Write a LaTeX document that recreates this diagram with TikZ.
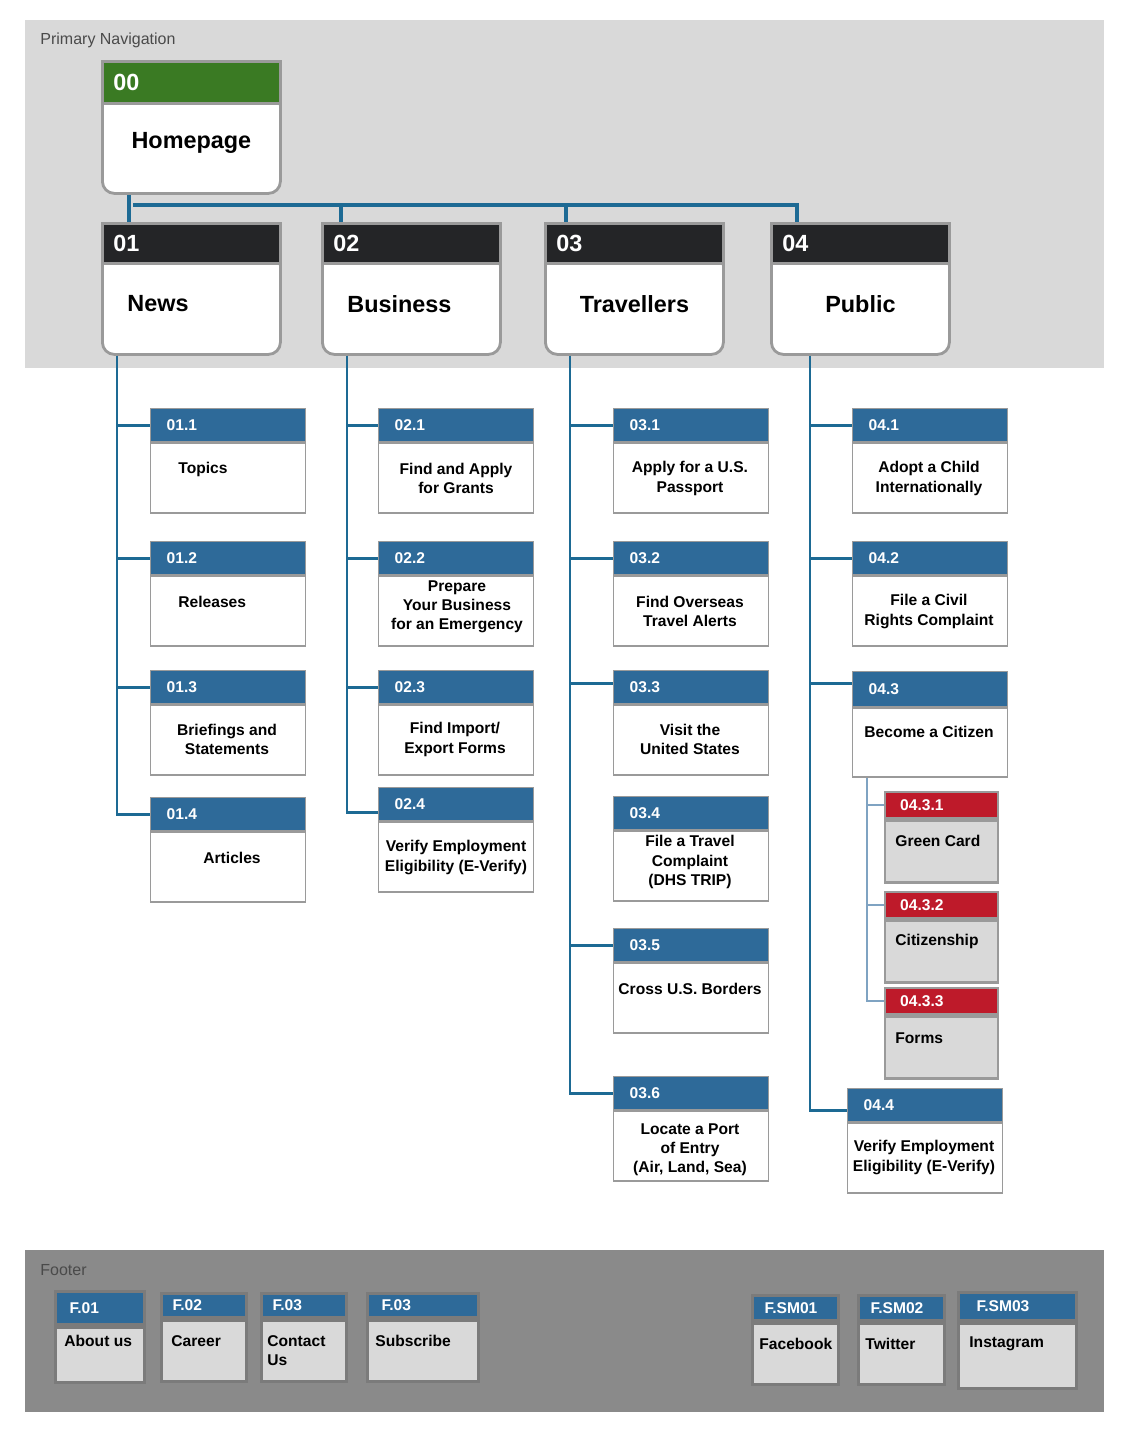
\documentclass[tikz,border=0pt]{standalone}
\usepackage{fontspec}
\setmainfont{Liberation Sans}
\usetikzlibrary{positioning}

\definecolor{navgray}{HTML}{D9D9D9}
\definecolor{footgray}{HTML}{8A8A8A}
\definecolor{footline}{HTML}{7B7B7B}
\definecolor{boxgray}{HTML}{9A9A9A}
\definecolor{hdblue}{HTML}{2E6A99}
\definecolor{hddark}{HTML}{242527}
\definecolor{hdgreen}{HTML}{3A7A23}
\definecolor{hdred}{HTML}{BE1A2A}
\definecolor{linkblue}{HTML}{1D6A94}
\definecolor{sublink}{HTML}{7FA3C2}
\definecolor{tagtext}{HTML}{4A4A4A}

\begin{document}
\begin{tikzpicture}[x=0.5pt, y=-0.5pt,
    mainhd/.style={draw=boxgray, line width=1.4pt, fill=hddark, anchor=north west,
      minimum width=89pt, minimum height=20pt, text width=78pt, inner xsep=5.5pt,
      inner ysep=0pt, align=left, text=white, font=\bfseries\fontsize{11.7}{14}\selectfont},
    mainbd/.style={draw=boxgray, line width=1.4pt, fill=white, rounded corners=6pt,
      anchor=north west, minimum width=89pt, minimum height=50.5pt, text width=64pt,
      inner xsep=12.5pt, align=center, font=\bfseries\fontsize{11.7}{14}\selectfont},
    kidhd/.style={draw=boxgray, line width=0.7pt, fill=hdblue, anchor=north west,
      minimum width=77.5pt, minimum height=16.5pt, text width=61.5pt, inner xsep=8pt,
      inner ysep=0pt, align=left, text=white, font=\bfseries\fontsize{7.8}{9}\selectfont},
    kidbd/.style={draw=boxgray, line width=0.7pt, fill=white, minimum width=77.5pt,
      minimum height=35pt, inner sep=0pt},
    kidtx/.style={inner sep=0pt, align=center, font=\bfseries\fontsize{7.8}{9.6}\selectfont},
    subhd/.style={kidhd, fill=hdred, line width=1.2pt, minimum width=56.5pt,
      minimum height=13pt, text width=41.5pt, inner xsep=7.5pt},
    subbd/.style={kidbd, fill=navgray, line width=1.2pt, minimum width=56.5pt, minimum height=31pt},
    foothd/.style={kidhd, draw=footline, line width=1.5pt, minimum height=12pt},
    footbd/.style={kidbd, draw=footline, fill=navgray, line width=1.5pt, minimum height=30.5pt},
    tag/.style={anchor=west, inner sep=0pt, text=tagtext, font=\fontsize{8}{10}\selectfont},
    topline/.style={draw=linkblue, line width=2.4pt},
    trunk/.style={draw=linkblue, line width=1.3pt},
    subline/.style={draw=sublink, line width=0.8pt}]

  \useasboundingbox (0,0) rectangle (1128,1442);
  \fill[white] (0,0) rectangle (1128,1442);

  % panels
  \fill[navgray] (25,20) rectangle (1104,368);
  \fill[footgray] (25,1250) rectangle (1104,1412);
  \node[tag] (navtag) at (40,40) {Primary Navigation};
  \node[tag] (foottag) at (40,1270) {Footer};

  % homepage
  \node[mainbd, minimum height=50pt] (home) at (101,92) {Homepage};
  \node[mainhd, fill=hdgreen, minimum height=21pt] (h00) at (101,60) {00};

  % level 1
  \node[mainbd, align=left] (n01) at (101,252) {News};
  \node[mainhd] (h01) at (101,222) {01};
  \node[mainbd, align=left] (n02) at (321,252) {Business};
  \node[mainhd] (h02) at (321,222) {02};
  \node[mainbd] (n03) at (544,252) {Travellers};
  \node[mainhd] (h03) at (544,222) {03};
  \node[mainbd] (n04) at (770,252) {Public};
  \node[mainhd] (h04) at (770,222) {04};

  \draw[topline] ([xshift=14pt]home.south west) -- ([xshift=14pt]h01.north west);
  \draw[topline] ([xshift=16pt,yshift=8.5pt]h01.north west) -| ([xshift=13.5pt]h04.north west);
  \draw[topline] ([xshift=10pt,yshift=8.5pt]h02.north west) -- ([xshift=10pt]h02.north west);
  \draw[topline] ([xshift=11pt,yshift=8.5pt]h03.north west) -- ([xshift=11pt]h03.north west);

  % News
  \node[kidhd] (c11) at (150,408) {01.1};
  \node[kidbd, below=0pt of c11] (b11) {};
  \node[kidtx, anchor=west] (t11) at (178,469) {Topics};
  \node[kidhd] (c12) at (150,541) {01.2};
  \node[kidbd, below=0pt of c12] (b12) {};
  \node[kidtx, anchor=west] (t12) at (178,602) {Releases};
  \node[kidhd] (c13) at (150,670) {01.3};
  \node[kidbd, below=0pt of c13] (b13) {};
  \node[kidtx] (t13) at (227,739.5) {Briefings and\\Statements};
  \node[kidhd] (c14) at (150,797) {01.4};
  \node[kidbd, below=0pt of c14] (b14) {};
  \node[kidtx] (t14) at (232,858) {Articles};

  \draw[trunk] ([xshift=8pt]n01.south west) |- (c11.west);
  \draw[trunk] ([xshift=8pt]n01.south west) |- (c12.west);
  \draw[trunk] ([xshift=8pt]n01.south west) |- (c13.west);
  \draw[trunk] ([xshift=8pt]n01.south west) |- (c14.west);

  % Business
  \node[kidhd] (c21) at (378,408) {02.1};
  \node[kidbd, below=0pt of c21] (b21) {};
  \node[kidtx] (t21) at (456,478.5) {Find and Apply\\for Grants};
  \node[kidhd] (c22) at (378,541) {02.2};
  \node[kidbd, below=0pt of c22] (b22) {};
  \node[kidtx] (t22) at (457,606.5) {Prepare\\Your Business\\for an Emergency};
  \node[kidhd] (c23) at (378,670) {02.3};
  \node[kidbd, below=0pt of c23] (b23) {};
  \node[kidtx] (t23) at (455,739.5) {Find Import/\\Export Forms};
  \node[kidhd] (c24) at (378,787) {02.4};
  \node[kidbd, below=0pt of c24] (b24) {};
  \node[kidtx] (t24) at (456,857.5) {Verify Employment\\Eligibility (E-Verify)};

  \draw[trunk] ([xshift=13pt]n02.south west) |- (c21.west);
  \draw[trunk] ([xshift=13pt]n02.south west) |- (c22.west);
  \draw[trunk] ([xshift=13pt]n02.south west) |- (c23.west);
  \draw[trunk] ([xshift=13pt]n02.south west) |- ([yshift=-4pt]c24.west);

  % Travellers
  \node[kidhd] (c31) at (613,408) {03.1};
  \node[kidbd, below=0pt of c31] (b31) {};
  \node[kidtx] (t31) at (690,478.5) {Apply for a U.S.\\Passport};
  \node[kidhd] (c32) at (613,541) {03.2};
  \node[kidbd, below=0pt of c32] (b32) {};
  \node[kidtx] (t32) at (690,611.5) {Find Overseas\\Travel Alerts};
  \node[kidhd] (c33) at (613,670) {03.3};
  \node[kidbd, below=0pt of c33] (b33) {};
  \node[kidtx] (t33) at (690,739.5) {Visit the\\United States};
  \node[kidhd] (c34) at (613,796) {03.4};
  \node[kidbd, below=0pt of c34] (b34) {};
  \node[kidtx] (t34) at (690,862) {File a Travel\\Complaint\\(DHS TRIP)};
  \node[kidhd] (c35) at (613,928) {03.5};
  \node[kidbd, below=0pt of c35] (b35) {};
  \node[kidtx] (t35) at (690,989) {Cross U.S. Borders};
  \node[kidhd] (c36) at (613,1076) {03.6};
  \node[kidbd, below=0pt of c36] (b36) {};
  \node[kidtx] (t36) at (690,1150) {Locate a Port\\of Entry\\(Air, Land, Sea)};

  \draw[trunk] ([xshift=13pt]n03.south west) |- (c31.west);
  \draw[trunk] ([xshift=13pt]n03.south west) |- (c32.west);
  \draw[trunk] ([xshift=13pt]n03.south west) |- ([yshift=2pt]c33.west);
  \draw[trunk] ([xshift=13pt]n03.south west) |- (c35.west);
  \draw[trunk] ([xshift=13pt]n03.south west) |- (c36.west);

  % Public
  \node[kidhd] (c41) at (852,408) {04.1};
  \node[kidbd, below=0pt of c41] (b41) {};
  \node[kidtx] (t41) at (929,478.5) {Adopt a Child\\Internationally};
  \node[kidhd] (c42) at (852,541) {04.2};
  \node[kidbd, below=0pt of c42] (b42) {};
  \node[kidtx] (t42) at (929,611.5) {File a Civil\\Rights Complaint};
  \node[kidhd, minimum height=17.5pt] (c43) at (852,671) {04.3};
  \node[kidbd, minimum height=34.5pt, below=0pt of c43] (b43) {};
  \node[kidtx] (t43) at (929,732) {Become a Citizen};
  \node[kidhd] (c44) at (847,1088) {04.4};
  \node[kidbd, below=0pt of c44] (b44) {};
  \node[kidtx] (t44) at (924,1157.5) {Verify Employment\\Eligibility (E-Verify)};

  \draw[trunk] ([xshift=20pt]n04.south west) |- (c41.west);
  \draw[trunk] ([xshift=20pt]n04.south west) |- (c42.west);
  \draw[trunk] ([xshift=20pt]n04.south west) |- ([yshift=3pt]c43.west);
  \draw[trunk] ([xshift=20pt]n04.south west) |- ([yshift=-2.5pt]c44.west);

  % Become a Citizen
  \node[subhd] (s431) at (884,791) {04.3.1};
  \node[subbd, below=0pt of s431] (sb431) {};
  \node[kidtx, anchor=west] (st431) at (895,841) {Green Card};
  \node[subhd] (s432) at (884,891) {04.3.2};
  \node[subbd, below=0pt of s432] (sb432) {};
  \node[kidtx, anchor=west] (st432) at (895,941) {Citizenship};
  \node[subhd] (s433) at (884,987) {04.3.3};
  \node[subbd, below=0pt of s433] (sb433) {};
  \node[kidtx, anchor=west] (st433) at (895,1038) {Forms};

  \draw[subline] ([xshift=7.5pt]b43.south west) |- (s431.west);
  \draw[subline] ([xshift=7.5pt]b43.south west) |- (s432.west);
  \draw[subline] ([xshift=7.5pt]b43.south west) |- (s433.west);

  % footer
  \node[foothd, minimum width=44.5pt, minimum height=16.5pt, text width=30.5pt, inner xsep=7pt] (f1) at (54,1290) {F.01};
  \node[footbd, minimum width=44.5pt, minimum height=27.5pt, below=0pt of f1] (fb1) {};
  \node[kidtx, anchor=west] (ft1) at (64,1341) {About us};
  \node[foothd, minimum width=42.5pt, text width=31.5pt, inner xsep=5.5pt] (f2) at (160,1292) {F.02};
  \node[footbd, minimum width=42.5pt, below=0pt of f2] (fb2) {};
  \node[kidtx, anchor=west] (ft2) at (171,1341) {Career};
  \node[foothd, minimum width=42.5pt, text width=31.5pt, inner xsep=5.5pt] (f3) at (260,1292) {F.03};
  \node[footbd, minimum width=42.5pt, below=0pt of f3] (fb3) {};
  \node[kidtx, anchor=west, align=left] (ft3) at (267,1350.5) {Contact\\Us};
  \node[foothd, minimum width=55.5pt, text width=41.5pt, inner xsep=7pt] (f4) at (366,1292) {F.03};
  \node[footbd, minimum width=55.5pt, below=0pt of f4] (fb4) {};
  \node[kidtx, anchor=west] (ft4) at (375,1341) {Subscribe};

  \node[foothd, minimum width=43pt, minimum height=12.5pt, text width=31pt, inner xsep=6pt] (f5) at (751,1294) {F.SM01};
  \node[footbd, minimum width=43pt, below=0pt of f5] (fb5) {};
  \node[kidtx, anchor=west] (ft5) at (759,1344) {Facebook};
  \node[foothd, minimum width=43pt, minimum height=12.5pt, text width=31pt, inner xsep=6pt] (f6) at (857,1294) {F.SM02};
  \node[footbd, minimum width=43pt, below=0pt of f6] (fb6) {};
  \node[kidtx, anchor=west] (ft6) at (865,1344) {Twitter};
  \node[foothd, minimum width=59pt, minimum height=14pt, text width=41pt, inner xsep=9pt] (f7) at (957,1291) {F.SM03};
  \node[footbd, minimum width=59pt, minimum height=32.5pt, below=0pt of f7] (fb7) {};
  \node[kidtx, anchor=west] (ft7) at (969,1344) {Instagram};
\end{tikzpicture}
\end{document}
